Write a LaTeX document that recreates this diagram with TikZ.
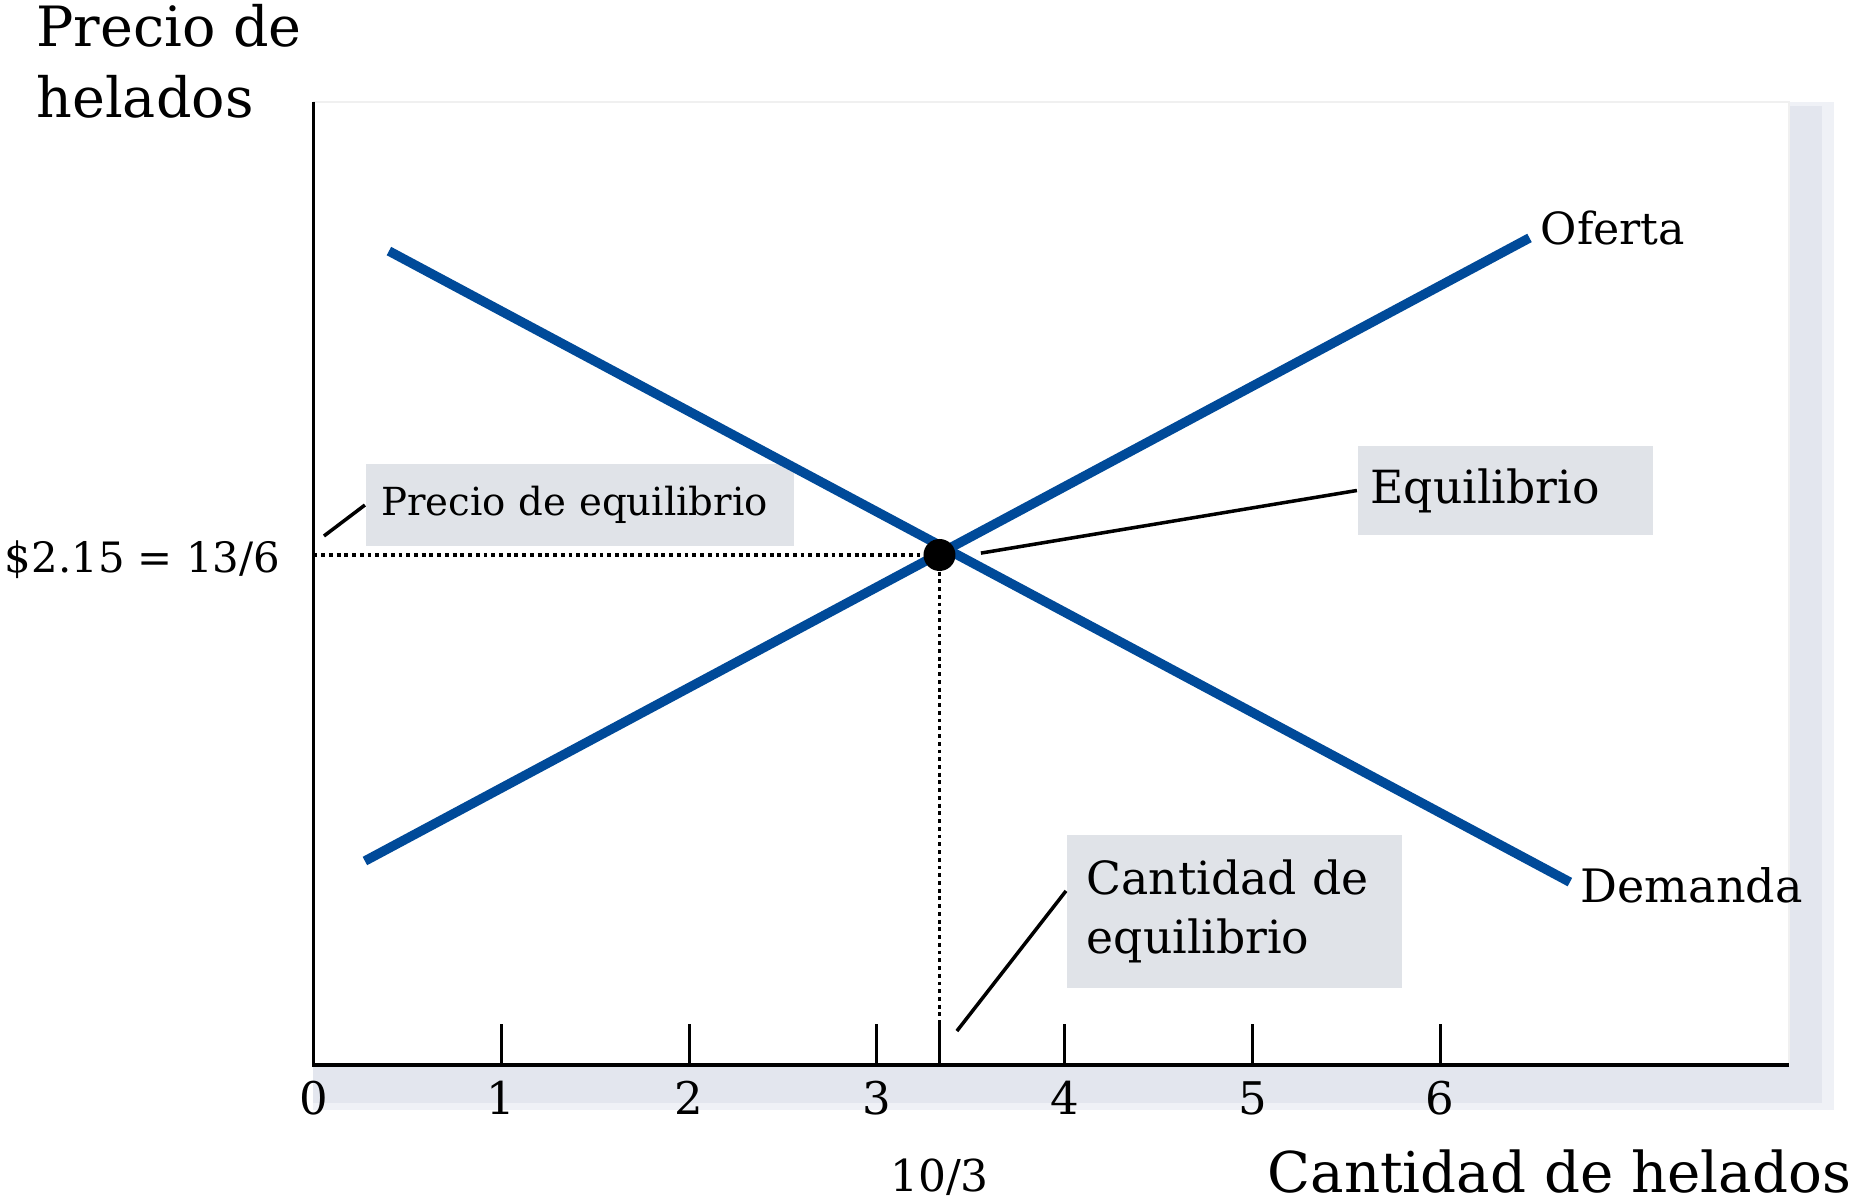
\documentclass[tikz,border=0pt]{standalone}
\usepackage{fontspec}
\setmainfont{DejaVu Serif}
\usepackage{tikz}
\usetikzlibrary{calc}

\definecolor{curveblue}{RGB}{0,74,153}
\definecolor{boxgray}{RGB}{224,227,232}
\definecolor{shadegray}{RGB}{227,230,238}
\definecolor{shadelight}{RGB}{239,241,246}

\begin{document}
\begin{tikzpicture}[x=1.878cm,y=2.345cm,
    curve/.style={color=curveblue,line width=2.7pt},
    axis/.style={line width=1pt},
    tick/.style={line width=0.85pt},
    guide/.style={line width=1.1pt,dash pattern=on 1.1pt off 1.1pt},
    lead/.style={line width=1pt},
    lbl/.style={fill=boxgray,inner ysep=0pt,align=left,anchor=west,
      font=\fontsize{13}{14.5}\selectfont},
    num/.style={inner sep=0pt,font=\fontsize{12.8}{15}\selectfont}]
          \useasboundingbox (-1.669,-0.5885) rectangle (8.320,4.5416);
          % plot area with its shadow
          \fill[shadelight] (0,4.107) rectangle (8.097,-0.192);
          \fill[shadegray] (0,4.09) rectangle (8.03,-0.16);
          \fill[white,draw=black!6] (0,4.107) rectangle (7.857,0);
          \draw[axis] (0,4.107) -- (0,0) -- (7.857,0);
          \foreach \i in {1,...,6}
            \draw[tick] (\i,0) -- (\i,0.175);
          \draw[tick] (10/3,0) -- (10/3,0.175);
          \foreach \i in {0,...,6}
            \node[num,anchor=base] (t\i) at (\i,-0.213) {\i};
          \node[num,anchor=base,font=\fontsize{12.5}{15}\selectfont] (tq) at (10/3,-0.541) {10/3};
          \node[num,anchor=base east,font=\fontsize{11.9}{14}\selectfont] (tp) at (-0.173,2.102) {\$2.15 = 13/6};
          \node[anchor=north west,align=left,inner sep=0pt,font=\fontsize{15.8}{20}\selectfont]
            (ylab) at (-1.478,4.525) {Precio de\\helados};
          \node[anchor=base east,inner sep=0pt,font=\fontsize{16}{20}\selectfont]
            (xlab) at (8.192,-0.543) {Cantidad de helados};
          % labels of the equilibrium
          \node[lbl,inner xsep=0.155cm,text width=3.97cm,minimum height=0.82cm,
            font=\fontsize{11}{13}\selectfont] (pe) at (0.274,2.388) {Precio de equilibrio};
          \node[lbl,inner xsep=0.13cm,text width=2.69cm,minimum height=0.89cm] (eb) at (5.556,2.450) {Equilibrio};
          \node[lbl,inner xsep=0.2cm,text width=2.95cm,minimum height=1.53cm,
            font=\fontsize{13}{16.8}\selectfont] (cq) at (4.007,0.6545) {Cantidad de\\equilibrio};
          % supply and demand
          \draw[curve] (0.274,0.870) -- (6.475,3.527);
          \draw[curve] (0.402,3.471) -- (6.690,0.780);
          \node[anchor=base west,inner sep=0pt,font=\fontsize{12.6}{15}\selectfont] (of) at (6.531,3.497) {Oferta};
          \node[anchor=base west,inner sep=0pt,font=\fontsize{13.1}{15}\selectfont] (de) at (6.744,0.695) {Demanda};
          \node[circle,fill=black,inner sep=0pt,minimum size=0.32cm] (eq) at (10/3,2.175) {};
          \draw[guide] (0,2.175) -- (eq);
          \draw[guide] (eq) -- (10/3,0.175);
          \coordinate (petail) at (0.056,2.256);
          \coordinate (eqtail) at (3.554,2.183);
          \coordinate (cqtail) at (3.426,0.145);
          \draw[lead] (petail) -- (pe.west);
          \draw[lead] (eqtail) -- (eb.west);
          \draw[lead] (cqtail) -- (cq.173);
        \end{tikzpicture}
\end{document}
